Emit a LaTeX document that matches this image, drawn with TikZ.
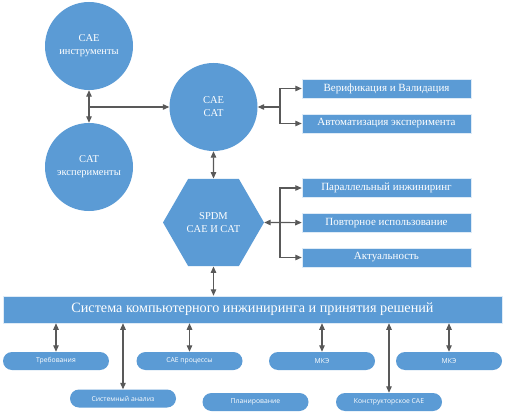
\documentclass[tikz,border=0pt]{standalone}
\usepackage{fontspec}
\setmainfont{Liberation Serif}
\newfontfamily\pillfont{Open Sans}
\usetikzlibrary{shapes.geometric,arrows.meta}
\definecolor{blu}{HTML}{5B9BD5}
\definecolor{arr}{HTML}{595959}
\begin{document}
\begin{tikzpicture}[x=1pt,y=-1pt,
  >={Triangle[length=6.5pt,width=5.5pt]},
  conn/.style={draw=arr,line width=1.1pt},
  circ/.style={circle,fill=blu,minimum size=88pt,inner sep=0pt,text=white,align=center,font=\fontsize{10.5}{13}\selectfont},
  hexa/.style={regular polygon,regular polygon sides=6,fill=blu,minimum size=101pt,inner sep=0pt,text=white,align=center,font=\fontsize{10.5}{13}\selectfont},
  rbox/.style={rectangle,fill=blu,draw=white!80!blu,line width=0.5pt,minimum width=169pt,minimum height=19pt,inner sep=0pt,text=white,font=\fontsize{11}{13}\selectfont},
  barbox/.style={rectangle,fill=blu,draw=white!80!blu,line width=0.5pt,minimum width=499pt,minimum height=27pt,inner sep=0pt,text=white,font=\fontsize{14.2}{17}\selectfont},
  pill/.style={rectangle,rounded corners=9pt,fill=blu,minimum width=106pt,minimum height=18pt,inner sep=0pt,text=white,font=\pillfont\fontsize{6.8}{8}\selectfont}
]
\useasboundingbox (0,0) rectangle (506,417);
\fill[white] (0,0) rectangle (506,417);

\node[circ] (c1) at (89,46) {CAE\\инструменты};
\node[circ] (c2) at (89,167) {CAT\\эксперименты};
\node[circ] (c3) at (213.5,107) {CAE\\CAT};
\node[hexa] (hex) at (213.5,222.5) {SPDM\\CAE И CAT};

\node[rbox] (b1) at (386.5,88.5) {Верификация и Валидация};
\node[rbox] (b2) at (386.5,123.5) {Автоматизация эксперимента};
\node[rbox] (b3) at (386.5,188) {Параллельный инжиниринг};
\node[rbox] (b4) at (386.5,223) {Повторное использование};
\node[rbox] (b5) at (386.5,257.5) {Актуальность};

\node[barbox] (bar) at (252.5,309.5) {Система компьютерного инжиниринга и принятия решений};

\node[pill] (p1) at (56,361) {Требования};
\node[pill] (p2) at (189.5,361) {CAE процессы};
\node[pill] (p3) at (123,398.5) {Системный анализ};
\node[pill] (p4) at (255.5,402) {Планирование};
\node[pill] (p5) at (322,361) {МКЭ};
\node[pill] (p6) at (389,402) {Конструкторское CAE};
\node[pill] (p7) at (449,361) {МКЭ};

\coordinate (j1) at (89,107);
\coordinate (j2) at (280,107);
\coordinate (j3) at (280,222.5);

\draw[conn,<->] (c1) -- (c2);
\draw[conn,->] (j1) -- (c3);
\draw[conn,<->] (c3) -- (hex);
\draw[conn,<-] (c3) -- (j2);
\draw[conn,->] (j2) |- (b1);
\draw[conn,->] (j2) |- (b2);
\draw[conn,<-] (hex) -- (j3);
\draw[conn,->] (j3) |- (b3);
\draw[conn,->] (j3) -- (b4);
\draw[conn,->] (j3) |- (b5);
\draw[conn,<->] (hex.south) -- (hex.south |- bar.north);

\foreach \p in {p1,p2,p3,p5,p6,p7}
  \draw[conn,<->] (\p.north |- bar.south) -- (\p.north);
\end{tikzpicture}
\end{document}
